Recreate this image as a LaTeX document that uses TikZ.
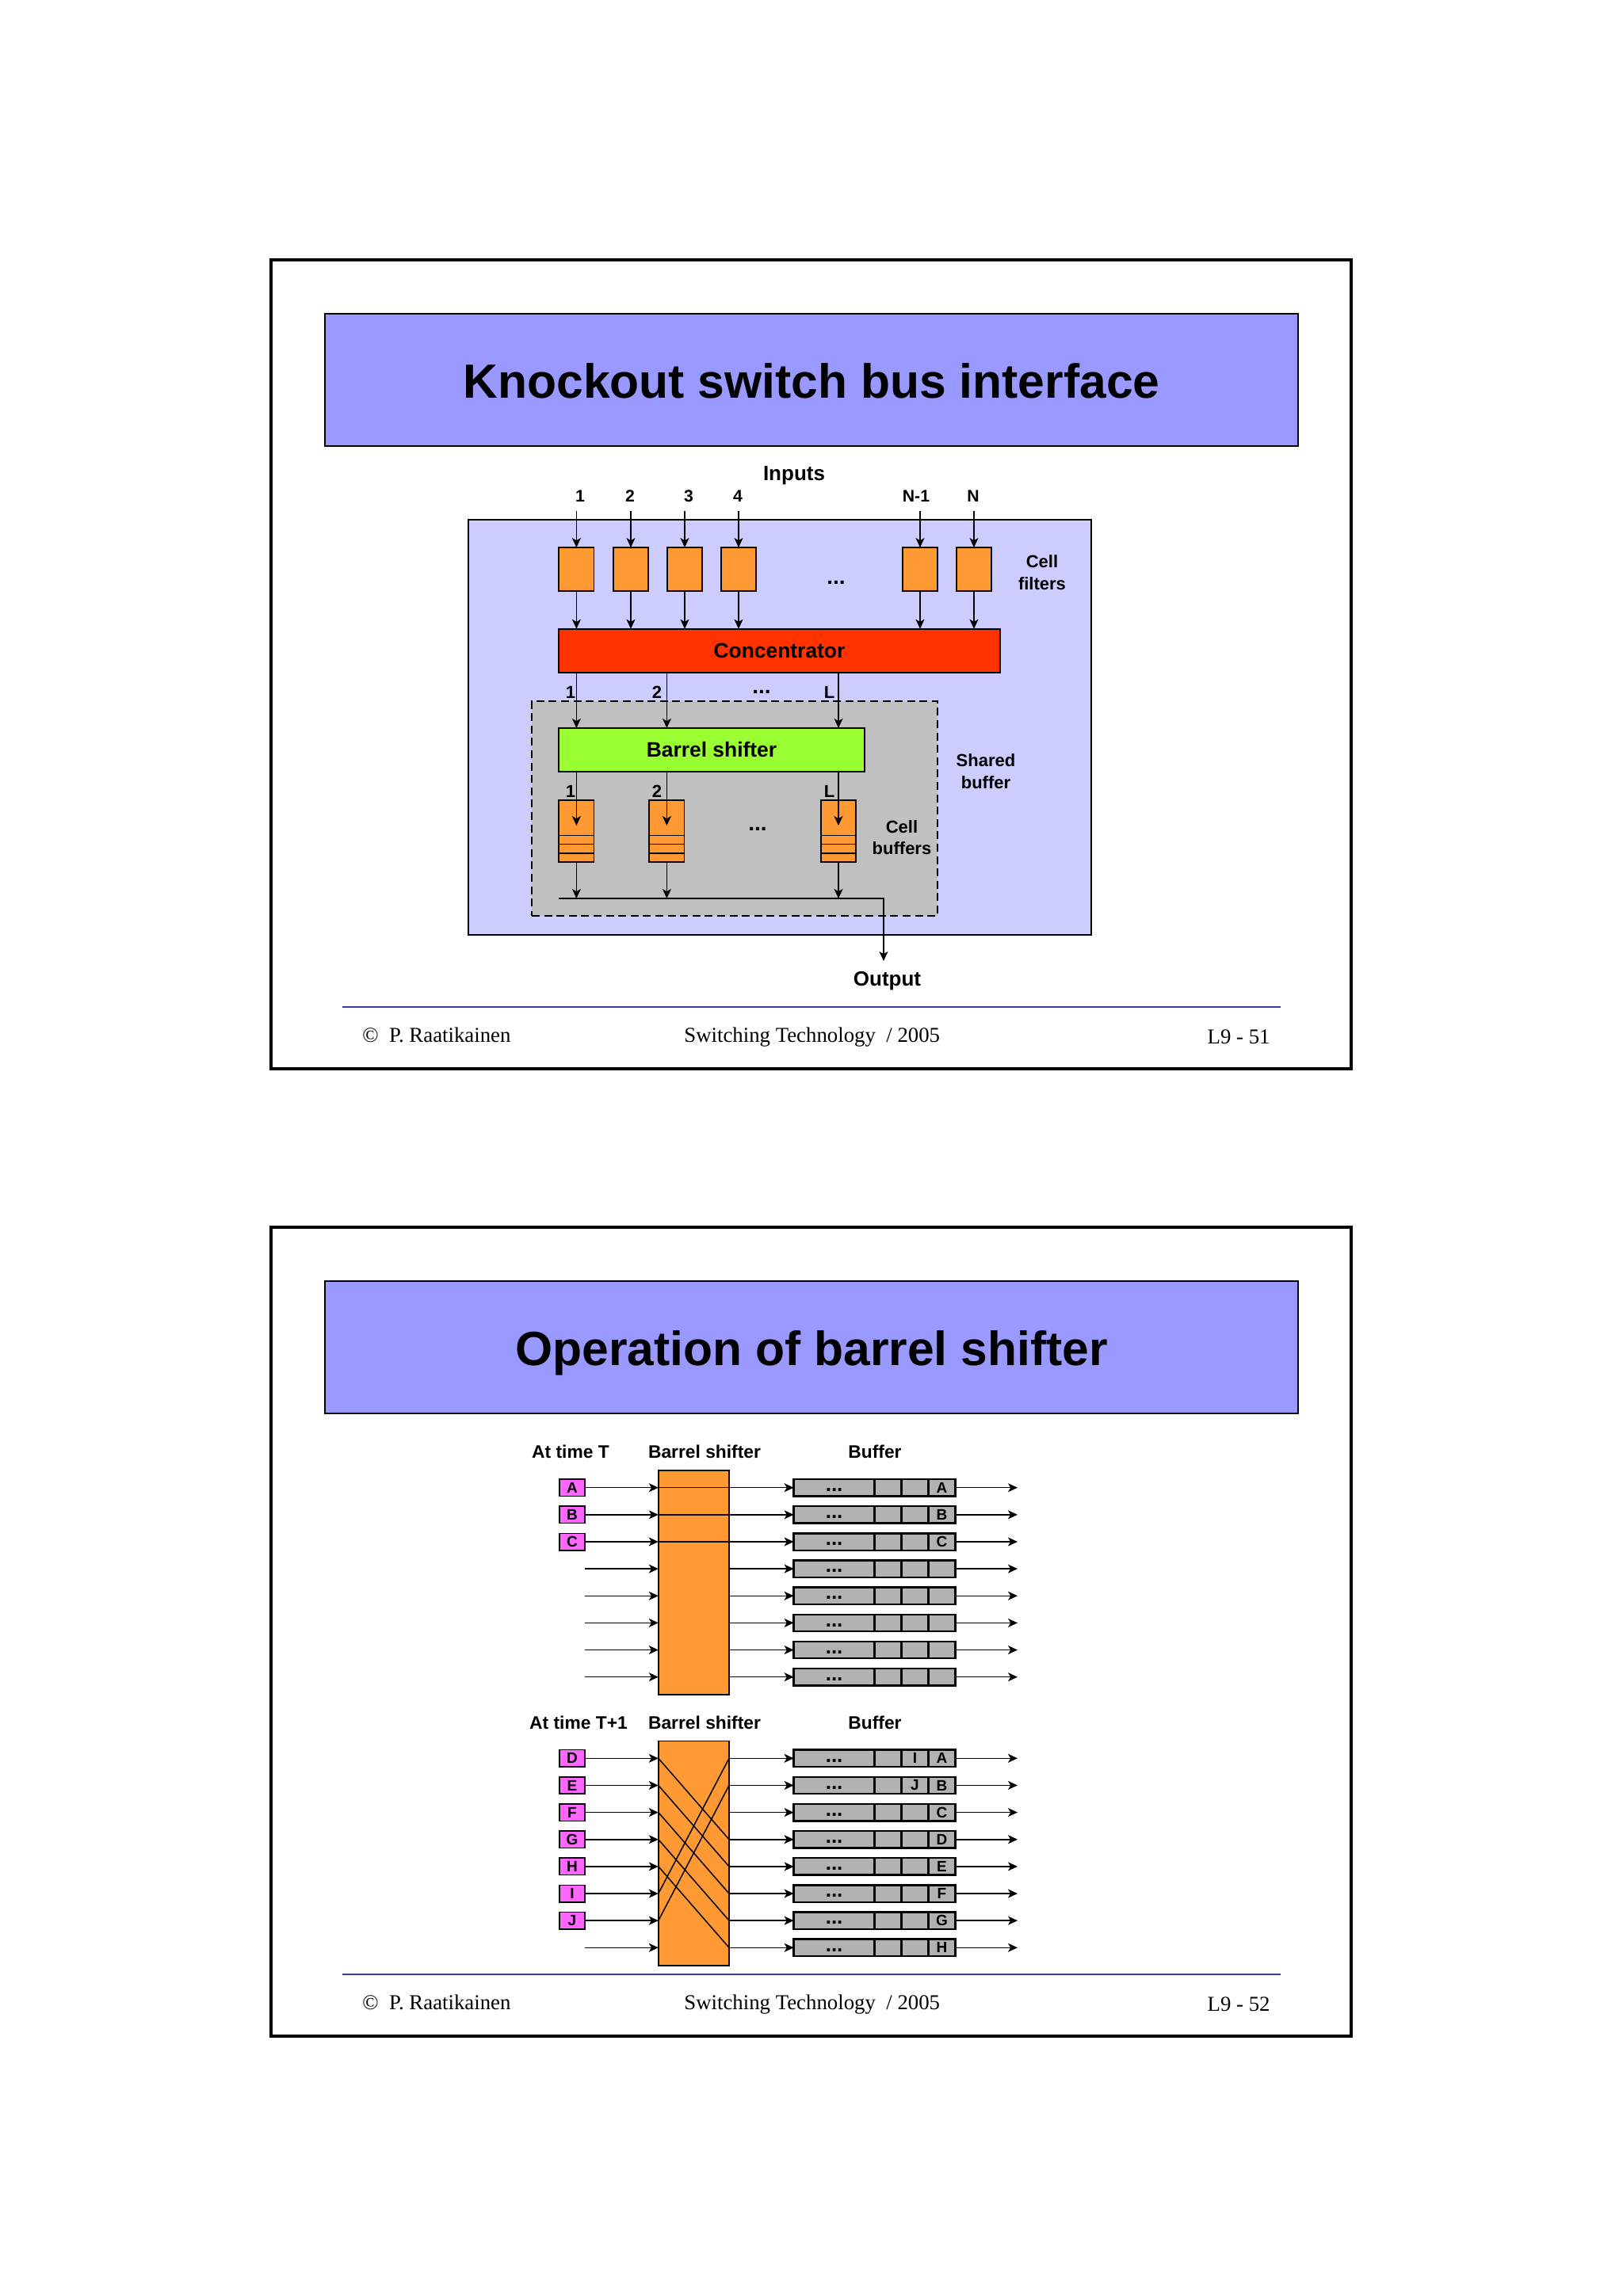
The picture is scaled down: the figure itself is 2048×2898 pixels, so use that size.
\documentclass[tikz,border=0pt]{standalone}
\usepackage{fontspec}
\setmainfont{Liberation Sans}
\newfontfamily\footfont{Liberation Serif}
\usetikzlibrary{arrows.meta}
\definecolor{titleblue}{HTML}{9999FF}
\definecolor{lilac}{HTML}{CCCCFF}
\definecolor{cellorange}{HTML}{FF9933}
\definecolor{concred}{HTML}{FF3300}
\definecolor{shiftgreen}{HTML}{99FF33}
\definecolor{sharedgray}{HTML}{C0C0C0}
\definecolor{bufgray}{HTML}{B2B2B2}
\definecolor{pinkbox}{HTML}{FF66FF}
\definecolor{ruleblue}{HTML}{3838B0}

% One row of the buffer: name prefix, y, third cell text, fourth cell text
\newcommand{\bufferrow}[4]{
	\node[bufcell, minimum width=51pt, text height=4.7pt, text depth=0pt, font=\fontsize{13}{14}\bfseries] (#1w) at (1052.6,#2) {...};
	\node[bufcell] (#1x) at (1120.5,#2) {};
	\node[bufcell] (#1y) at (1154.5,#2) {#3};
	\node[bufcell] (#1z) at (1188.5,#2) {#4};
}

\begin{document}
\begin{tikzpicture}[
		x=0.5pt, y=-0.5pt,
		% Define the styles for all boxes and arrows
		plainbox/.style={rectangle, draw=black, line width=0.8pt, inner sep=0pt, outer sep=0pt},
		slideframe/.style={plainbox, line width=2pt, minimum width=681.5pt, minimum height=510.75pt},
		titlebox/.style={plainbox, fill=titleblue, minimum width=614pt, minimum height=83.75pt, text height=28.5pt, text depth=6pt, font=\fontsize{30.3}{36}\bfseries},
		filterbox/.style={plainbox, fill=cellorange, minimum width=22.2pt, minimum height=27.5pt},
		cellbuf/.style={plainbox, fill=cellorange, minimum width=22.2pt, minimum height=39.15pt},
		stagebox/.style={plainbox, minimum height=27.6pt, font=\fontsize{13.2}{16}\bfseries},
		inbox/.style={plainbox, fill=pinkbox, minimum width=16pt, minimum height=10.7pt, font=\fontsize{9.5}{10}\bfseries},
		shiftbox/.style={plainbox, fill=cellorange, minimum width=44.6pt, minimum height=141.6pt},
		bufcell/.style={plainbox, line width=1.2pt, fill=bufgray, minimum width=17pt, minimum height=10.7pt, font=\fontsize{9.5}{10}\bfseries},
		caption/.style={font=\fontsize{13}{15}\bfseries, inner sep=0pt},
		dots/.style={font=\fontsize{14}{15}\bfseries, inner sep=0pt},
		head/.style={font=\fontsize{11.4}{14}\bfseries, inner sep=0pt},
		small/.style={font=\fontsize{10.6}{12}\bfseries, inner sep=0pt},
		side/.style={font=\fontsize{11}{13.75}\bfseries, inner sep=0pt, align=center},
		foot/.style={font=\fontsize{13.4}{15}\footfont, inner sep=0pt},
		arrow/.style={-{Stealth[inset=1.6pt, length=6pt, width=5.5pt]}, line width=0.75pt}
	]
	\useasboundingbox (0,0) rectangle (2048,2898);
	
	% --- Frame, title and footer of both slides ---
	\foreach \off/\ttl/\pg in {0/Knockout switch bus interface/L9 - 51, 1221/Operation of barrel shifter/L9 - 52} {
		\node[slideframe] (frame\off) at (1023.5,838.25+\off) {};
		\node[titlebox] (title\off) at (1024,479.5+\off) {\ttl};
		\coordinate (ruleL\off) at (432,1271+\off);
		\coordinate (ruleR\off) at (1616,1271+\off);
		\draw[ruleblue, line width=0.8pt] (ruleL\off) -- (ruleR\off);
		\node[foot, anchor=base west] (author\off) at (457,1315+\off) {© \ P. Raatikainen};
		\node[foot, anchor=base west] (course\off) at (863,1315+\off) {Switching Technology\ \ / 2005};
		\node[foot, anchor=base east] (page\off) at (1603,1317+\off) {\pg};
	}
	
	% --- Knockout switch bus interface ---
	\node[plainbox, fill=lilac, minimum width=393pt, minimum height=262pt] (bus) at (984,917.75) {};
	\node[plainbox, dash pattern=on 5pt off 2.8pt, fill=sharedgray, minimum width=256pt, minimum height=135.5pt] (shared) at (927,1020.2) {};
	\node[stagebox, fill=concred, minimum width=278.5pt] (conc) at (983.5,821.3) {Concentrator};
	\node[stagebox, fill=shiftgreen, minimum width=193pt] (barrel) at (898,946.5) {Barrel shifter};
	
	% Cell filters with their inputs
	\foreach \n/\x in {1/727.4,2/796,3/864,4/932,5/1161,6/1229} {
		\node[filterbox] (filt\n) at (\x,718.5) {};
		\coordinate (in\n) at (\x,644.6);
		\draw[arrow] (in\n) -- (filt\n.north);
		\draw[arrow] (filt\n.south) -- (filt\n.south |- conc.north);
	}
	
	% Output bus
	\coordinate (busL) at (705,1134);
	\coordinate (busR) at (1115,1134);
	\coordinate (outEnd) at (1115,1213);
	\draw[arrow] (busL) -- (busR) -- (outEnd);
	
	% Cell buffers with their arrows
	\foreach \n/\x in {1/727.4,2/841.4,3/1058} {
		\node[cellbuf] (cb\n) at (\x,1048.85) {};
		\foreach \y in {1054.4,1065.5,1077}
			\draw[line width=0.8pt] (cb\n.west |- 0,\y) -- (cb\n.east |- 0,\y);
		\coordinate (cbEnd\n) at (\x,1042);
		\draw[arrow] (conc.south -| cb\n) -- (barrel.north -| cb\n);
		\draw[arrow] (barrel.south -| cb\n) -- (cbEnd\n);
		\draw[arrow] (cb\n.south) -- (cb\n.south |- busL);
	}
	
	% Labels
	\node[caption] (inputs) at (1002,600.7) {Inputs};
	\foreach \n/\x/\t in {1/732/1,2/795/2,3/869/3,4/931/4,5/1156/N-1,6/1228/N}
		\node[small] (inlab\n) at (\x,626) {\t};
	\node[dots] (filtdots) at (1055,735) {...};
	\node[side] (filtlab) at (1315,722.7) {Cell\\filters};
	\foreach \n/\x/\t in {1/720/1,2/829/2,3/1046.6/L} {
		\node[small, font=\fontsize{11}{13}\bfseries] (conclab\n) at (\x,873.6) {\t};
		\node[small, font=\fontsize{11}{13}\bfseries] (cblab\n) at (\x,998.6) {\t};
	}
	\node[dots] (concdots) at (961,873) {...};
	\node[dots] (cbdots) at (956,1046.5) {...};
	\node[side] (sharedlab) at (1244,973.7) {Shared\\buffer};
	\node[side] (cblab) at (1138,1057.3) {Cell\\buffers};
	\node[caption] (output) at (1119.5,1238.6) {Output};
	
	% --- Operation of barrel shifter, at time T ---
	\node[head] (timeA) at (720,1832) {At time T};
	\node[head] (shiftA) at (889,1832) {Barrel shifter};
	\node[head] (bufA) at (1104,1832) {Buffer};
	\node[shiftbox] (sa) at (875.4,1997.35) {};
	
	\foreach \r/\l in {0/A,1/B,2/C,3/,4/,5/,6/,7/} {
		\pgfmathsetmacro{\ry}{1877.7+34.14*\r}
		\bufferrow{a\r}{\ry}{}{\l}
		\coordinate (afrom\r) at (738,\ry);
		\coordinate (agoal\r) at (1284,\ry);
		\draw[arrow] (afrom\r) -- (sa.west |- afrom\r);
		\draw[arrow] (sa.east |- afrom\r) -- (a\r w.west);
		\draw[arrow] (a\r z.east) -- (agoal\r);
	}
	\foreach \r/\l in {0/A,1/B,2/C} {
		\node[inbox] (pa\r) at (722,1877.7+34.14*\r) {\l};
		\draw[line width=0.75pt] (sa.west |- pa\r) -- (sa.east |- pa\r);
	}
	
	% --- Operation of barrel shifter, at time T+1 ---
	\node[head] (timeB) at (730,2174) {At time T+1};
	\node[head] (shiftB) at (889,2174) {Barrel shifter};
	\node[head] (bufB) at (1104,2174) {Buffer};
	\node[shiftbox] (sb) at (875.4,2339.2) {};
	
	\foreach \r/\m/\l in {0/I/A,1/J/B,2//C,3//D,4//E,5//F,6//G,7//H} {
		\pgfmathsetmacro{\ry}{2219.3+34.14*\r}
		\bufferrow{b\r}{\ry}{\m}{\l}
		\coordinate (bfrom\r) at (738,\ry);
		\coordinate (bgoal\r) at (1284,\ry);
		\draw[arrow] (bfrom\r) -- (sb.west |- bfrom\r);
		\draw[arrow] (sb.east |- bfrom\r) -- (b\r w.west);
		\draw[arrow] (b\r z.east) -- (bgoal\r);
	}
	\foreach \r/\l in {0/D,1/E,2/F,3/G,4/H,5/I,6/J}
		\node[inbox] (pb\r) at (722,2219.3+34.14*\r) {\l};
	
	% Crossing lines inside the shifter
	\foreach \a/\b in {0/3,1/4,2/5,3/6,4/7,5/0,6/1}
		\draw[line width=0.75pt] (sb.west |- bfrom\a) -- (sb.east |- bfrom\b);
\end{tikzpicture}
\end{document}
